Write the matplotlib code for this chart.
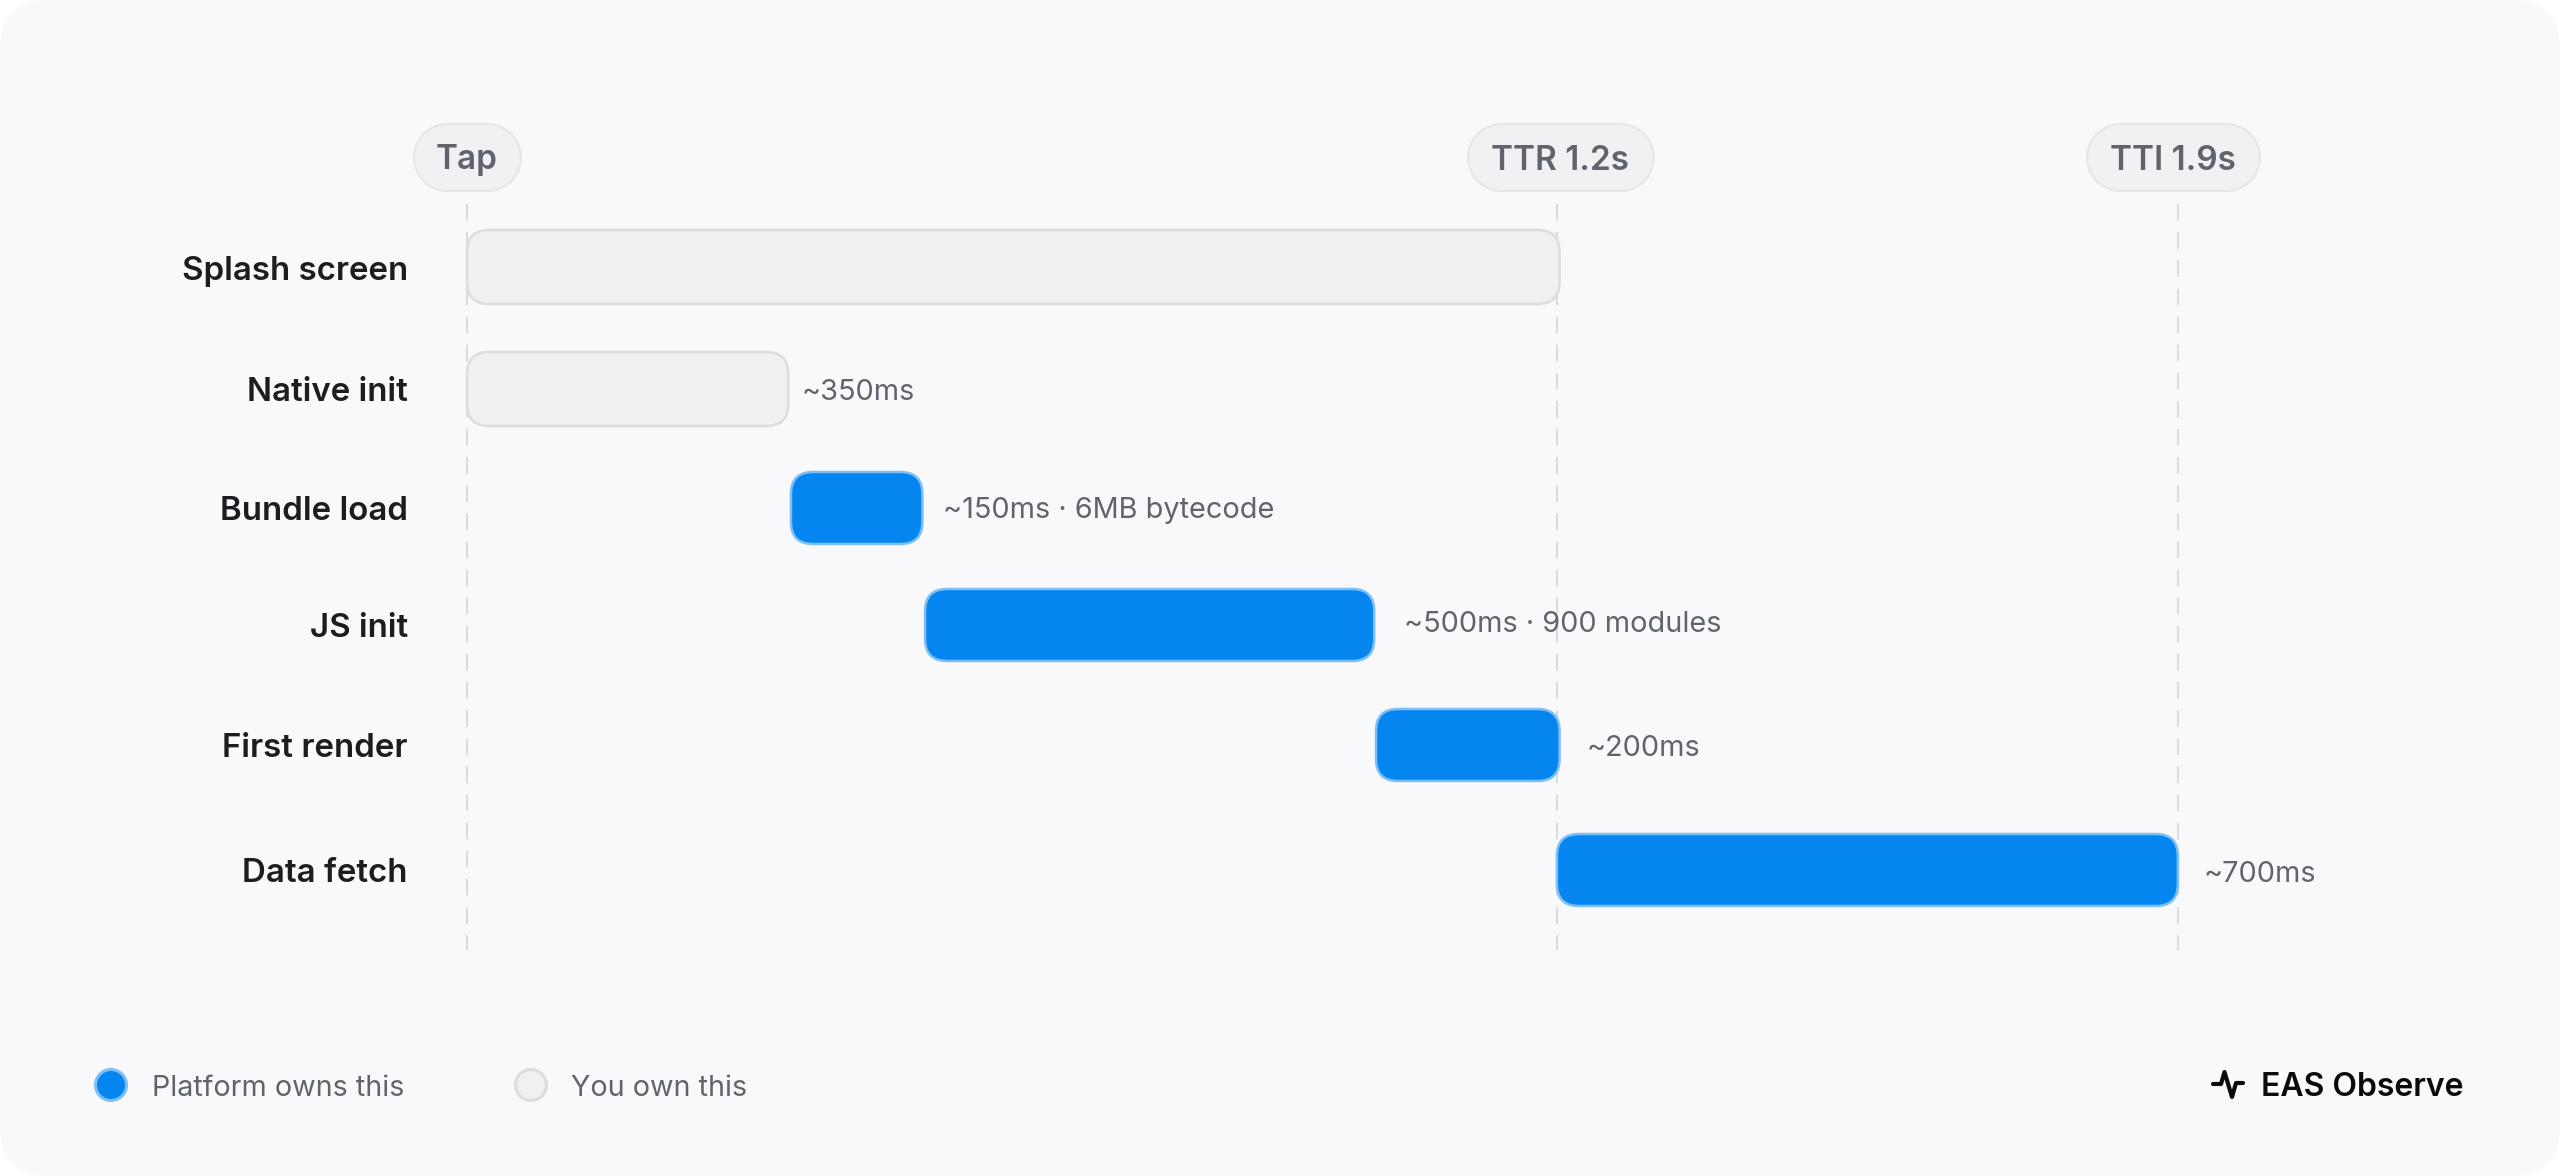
import matplotlib
matplotlib.use("Agg")
import matplotlib.pyplot as plt
from matplotlib.patches import FancyBboxPatch, Circle
from matplotlib.transforms import Affine2D

W, H = 2560, 1176
# ---- data (ms) ----
stages = ["Splash screen", "Native init", "Bundle load", "JS init", "First render", "Data fetch"]
starts = [0, 0, 360, 509, 1010, 1211]
ends = [1214, 357, 506, 1008, 1214, 1901]
owners = ["you", "you", "platform", "platform", "platform", "platform"]
notes = ["", "~350ms", "~150ms · 6MB bytecode", "~500ms · 900 modules", "~200ms", "~700ms"]
milestones = ["Tap", "TTR 1.2s", "TTI 1.9s"]
milestone_ms = [0, 1211, 1901]
legend_labels = ["Platform owns this", "You own this"]
brand = "EAS Observe"

# ---- layout / style ----
row_y = [267, 389, 508, 625, 745, 870]
label_y = [268, 389, 508, 625, 745, 870]
note_y = [0, 389, 508, 622, 745, 871]
bar_h = [74, 74, 72, 72, 72, 72]
note_x = [None, 802, 943, 1404, 1587, 2204]
pill_box = [(412, 521), (1466, 1654), (2085, 2260)]
PX_PER_MS = 0.9
X0 = 467
BLUE, BLUE_E = "#0585F0", "#7CBFF7"
GREY, GREY_E = "#F0F0F3", "#DDDDE1"
PANEL = "#F9F9FB"
TXT, SUB = "#1C1D21", "#60646C"
FONT = "Inter"
plt.rcParams["font.family"] = [FONT, "DejaVu Sans"]

fig = plt.figure(figsize=(W / 100, H / 100), dpi=100, facecolor="white")
ax = fig.add_axes([0, 0, 1, 1])
ax.set_xlim(-X0 / PX_PER_MS, (W - X0) / PX_PER_MS)
ax.set_ylim(H, 0)
ax.axis("off")
ax.patch.set_alpha(0)
px = Affine2D().scale(1, -1).translate(0, H)


def rbox(x0, y0, x1, y1, r, fc, ec, lw, z, **kw):
    p = FancyBboxPatch((x0, y0), x1 - x0, y1 - y0, boxstyle=f"round,pad=0,rounding_size={r}",
                       fc=fc, ec=ec, lw=lw * 0.72, zorder=z, **kw)
    ax.add_patch(p)
    return p


# panel
rbox(0, 0, W, H, 50, PANEL, "none", 0, 0, transform=px)

# milestones
for name, ms, (a, b) in zip(milestones, milestone_ms, pill_box):
    ax.plot([ms, ms], [204, 950], color="#DCDCE0", lw=1.5, dashes=(8, 5.5), zorder=1)
    for width, colour, z in [(69, "#E6E6EA", 2), (65, "#F1F1F3", 2.1)]:
        ax.plot([a + 34.5, b - 34.5], [156.5, 156.5], transform=px, color=colour,
                lw=width * 0.72, solid_capstyle="round", zorder=z)
    ax.text((a + b) / 2, 157, name, transform=px, ha="center", va="center_baseline",
            fontsize=24, fontweight=600, color=SUB, zorder=3)

# bars
for name, s, e, o, note, y, h, nx, ly, ny in zip(stages, starts, ends, owners, notes, row_y, bar_h,
                                                   note_x, label_y, note_y):
    fc, ec = (BLUE, BLUE_E) if o == "platform" else (GREY, GREY_E)
    rbox(s, y - h / 2, e, y + h / 2, 22 / PX_PER_MS, fc, ec, 2.5, 4, mutation_aspect=PX_PER_MS)
    ax.text(408, ly, name, transform=px, ha="right", va="center_baseline",
            fontsize=23.8, fontweight=600, color=TXT, zorder=5)
    if note:
        ax.text(nx, ny, note, transform=px, ha="left", va="center_baseline",
                fontsize=20.8, color=SUB, zorder=5)

# legend
for cx, tx, label, fc, ec in zip([111, 531], [152, 571], legend_labels, [BLUE, GREY], [BLUE_E, GREY_E]):
    ax.add_patch(Circle((cx, 1085), 15.5, fc=fc, ec=ec, lw=2.2, transform=px, zorder=4))
    ax.text(tx, 1085, label, transform=px, ha="left", va="center_baseline",
            fontsize=20.7, color=SUB, zorder=5)

# brand
ax.plot([2213, 2221, 2224.5, 2232, 2236, 2243], [1084, 1084, 1072, 1097, 1083, 1083], transform=px,
        color="#0B0B0F", lw=3, solid_capstyle="round", solid_joinstyle="round", zorder=5)
ax.text(2261, 1084, brand, transform=px, ha="left", va="center_baseline",
        fontsize=23, fontweight=600, color="#0B0B0F", zorder=5)

fig.savefig("out.png", dpi=100, facecolor="white")
